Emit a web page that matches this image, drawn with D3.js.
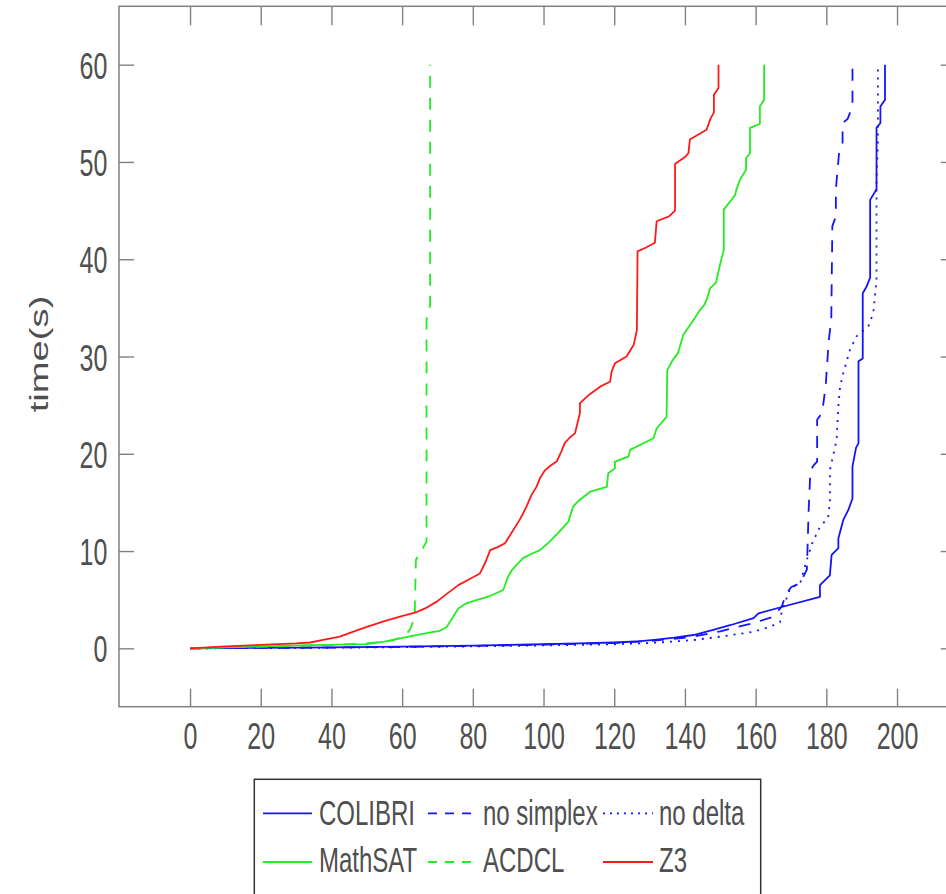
<!DOCTYPE html>
<html>
<head>
<meta charset="utf-8">
<script src="https://cdn.jsdelivr.net/npm/d3@7"></script>
<style>
  body { margin: 0; background: #fff; }
  svg { display: block; }
  text { font-family: "Liberation Sans", Arial, sans-serif; fill: #4f4f4f; }
</style>
</head>
<body>
<div id="container"></div>
<script>
// solved instances (x) vs time in seconds (y)
var colibri = [[0,0],[20,0.05],[40,0.1],[60,0.18],[80,0.28],[100,0.42],[110,0.5],[120,0.6],[126,0.7],[132,0.9],[137,1.1],[142.4,1.37],[148,1.9],[153,2.4],[159.4,3.1],[160.8,3.6],[167.9,4.3],[178.2,5.3],[178.2,6.5],[181,7.5],[181.5,9.6],[183.4,10.3],[183.4,11.3],[184.8,13.2],[186.2,14.2],[187.4,15.4],[187.4,18.7],[188.4,20.6],[189.1,21.1],[189.1,29.5],[190.3,29.8],[190.3,36.5],[191.4,37.2],[192.4,38.1],[192.4,46.1],[194.2,47.2],[194.2,53.5],[195.3,54.0],[195.3,55.7],[196.6,56.4],[196.6,60]];
var noSimplex = [[0,0],[20,0.04],[40,0.08],[60,0.15],[80,0.25],[100,0.38],[120,0.55],[130,0.75],[136,0.95],[142.4,1.2],[150,1.75],[159.4,2.6],[165,3.25],[167.4,4.3],[168.5,5.5],[170.1,6.3],[172.6,6.7],[174.5,8.1],[175,14.2],[175.5,18.3],[176.4,18.8],[177.4,19.2],[177.4,23.5],[178.8,24.2],[179.8,26.9],[180.7,31.7],[181.4,33.8],[181.7,43.4],[182.7,44.4],[182.7,47.2],[183.6,50.9],[184.6,52],[184.6,54],[186,54.4],[187.4,55.7],[187.4,60]];
var noDelta = [[0,0],[20,0.03],[40,0.06],[60,0.12],[80,0.2],[100,0.3],[120,0.42],[130,0.55],[136,0.68],[142.4,0.85],[150,1.2],[159.4,1.7],[164,2.2],[166.9,2.7],[167.4,3.8],[169.8,6.2],[172.6,6.7],[174.5,9.1],[176,10.8],[178.2,12.5],[180.5,13.4],[181,15],[181,18.3],[182.9,21.4],[183.4,24.9],[183.9,26.9],[184.8,28.3],[186.7,30.7],[188.6,32.1],[191.9,33.1],[193.3,34.5],[194.2,37.9],[194.2,48.2],[194.6,52],[194.6,60]];
var mathsat = [[0,0],[10,0.1],[20,0.2],[33.9,0.34],[50,0.44],[55,0.7],[59.4,1.03],[64,1.35],[68.8,1.7],[70.7,1.8],[72.6,2.2],[74,3.0],[75.9,4.1],[78,4.6],[81,4.95],[85,5.4],[88.6,6.0],[90,7.4],[91,8.0],[92.4,8.6],[94.3,9.3],[96.5,9.7],[99,10.1],[101.5,10.9],[103.7,11.7],[105.5,12.4],[107,13.0],[108.4,14.6],[110,15.2],[113.2,16.1],[117.9,16.6],[118.3,18.0],[120.2,18.5],[120.2,19.2],[124,19.7],[124.5,20.4],[131.1,21.6],[132,22.6],[134.8,23.8],[135,28.6],[136.5,29.6],[138.1,30.4],[139.5,32.2],[141,33.0],[142.9,34],[144.3,34.8],[145.5,35.3],[146.3,36],[147.1,37],[148.8,37.6],[149.9,39.4],[151,41],[151,45.1],[154.2,46.6],[154.6,47.2],[155.6,48.2],[157.3,49.2],[157.3,50.4],[158.4,50.9],[158.4,53.5],[161.2,53.9],[161.2,55.7],[162.4,56.4],[162.4,60]];
var acdcl = [[0,0],[10,0.1],[25,0.2],[40,0.35],[50,0.5],[57,0.8],[60.5,1.2],[62.2,1.9],[63.6,3.25],[63.6,4.3],[63.9,9.1],[65.1,9.8],[65.6,10.1],[66.9,11],[66.9,33.8],[67.9,35.3],[67.9,60]];
var z3 = [[0,0],[10,0.2],[20,0.35],[30,0.5],[34,0.6],[38,0.9],[42.4,1.2],[46,1.7],[50,2.2],[55,2.8],[59.4,3.25],[63.6,3.66],[66.5,4.1],[69.8,4.8],[73,5.7],[75.9,6.5],[79,7.1],[82,7.7],[83.5,8.8],[84.9,10.1],[87,10.4],[89.1,10.8],[91,11.9],[92.9,13.0],[94,13.7],[95.2,14.6],[96.5,15.7],[98,16.6],[99,17.5],[100.4,18.3],[102,18.8],[103.7,19.2],[105,20.2],[106,21.1],[107.5,21.7],[108.9,22.1],[110.3,24.2],[110.3,25.2],[113,26.1],[116,26.9],[118.8,27.4],[119.3,28.5],[120.2,29.3],[123.5,30.0],[125.5,31.2],[126.4,32.7],[126.6,40.8],[129,41.2],[131.5,41.7],[132,43.9],[135.5,44.4],[137.2,45],[137.2,49.8],[140,50.5],[141,50.9],[141.4,52.3],[146.1,53.3],[147.3,54.5],[148.2,55.1],[148.2,56.9],[149.5,57.6],[149.5,60]];

var xTicks = [0, 20, 40, 60, 80, 100, 120, 140, 160, 180, 200];
var yTicks = [0, 10, 20, 30, 40, 50, 60];

var seriesNames = ["COLIBRI", "no simplex", "no delta", "MathSAT", "ACDCL", "Z3"];
var seriesData = [colibri, noSimplex, noDelta, mathsat, acdcl, z3];
var seriesColors = ["#1414ff", "#1414ff", "#1414ff", "#22ee22", "#22ee22", "#ff1a1a"];
var seriesDash = [null, "12 10", "2 6", null, "12 10", null];

var drawChart = function ()
{
    var width = 946, height = 894;
    var plotLeft = 119, plotRight = 955.7, plotTop = 6.3, plotBottom = 706.7;
    var stretch = 1.47;

    var svg = d3.select("#container").append("svg")
        .attr("width", width)
        .attr("height", height);

    var x = d3.scaleLinear().domain([-20.1, 216.6]).range([plotLeft, plotRight]);
    var y = d3.scaleLinear().domain([-6, 66]).range([plotBottom, plotTop]);

    svg.append("clipPath").attr("id", "plotclip")
        .append("rect")
        .attr("x", plotLeft).attr("y", plotTop)
        .attr("width", plotRight - plotLeft).attr("height", plotBottom - plotTop);

    // axes, ticks pointing inward
    var axisColor = "#808080";

    var gBottom = svg.append("g")
        .attr("transform", "translate(0," + plotBottom + ")")
        .call(d3.axisBottom(x).tickValues(xTicks).tickSize(-18).tickSizeOuter(0));
    gBottom.selectAll("text")
        .attr("y", null).attr("dy", null)
        .attr("transform", "translate(0,42.6) scale(1," + stretch + ")")
        .style("font-size", "25px");

    svg.append("g")
        .attr("transform", "translate(0," + plotTop + ")")
        .call(d3.axisTop(x).tickValues(xTicks).tickSize(-19).tickSizeOuter(0).tickFormat(""));

    var gLeft = svg.append("g")
        .attr("transform", "translate(" + plotLeft + ",0)")
        .call(d3.axisLeft(y).tickValues(yTicks).tickSize(-15).tickSizeOuter(0));
    gLeft.selectAll("text")
        .attr("x", null).attr("dy", null)
        .attr("transform", "translate(-11.7,13.5) scale(1," + stretch + ")")
        .style("font-size", "25px");

    svg.append("g")
        .attr("transform", "translate(" + plotRight + ",0)")
        .call(d3.axisRight(y).tickValues(yTicks).tickSize(-15).tickSizeOuter(0).tickFormat(""));

    svg.selectAll(".domain").remove();
    svg.selectAll(".tick line").attr("stroke", axisColor).attr("stroke-width", 1.4);
    svg.selectAll(".tick text").attr("fill", "#4f4f4f").style("font-family", "'Liberation Sans', Arial, sans-serif");

    svg.append("rect")
        .attr("x", plotLeft).attr("y", plotTop)
        .attr("width", plotRight - plotLeft).attr("height", plotBottom - plotTop)
        .attr("fill", "none")
        .attr("stroke", axisColor)
        .attr("stroke-width", 1.5);

    svg.append("text")
        .attr("transform", "translate(47.5,354) scale(1," + stretch + ") rotate(-90)")
        .attr("text-anchor", "middle")
        .style("font-size", "26px")
        .text("time(s)");

    // curves
    var line = d3.line()
        .x(function (d) { return x(d[0]); })
        .y(function (d) { return y(d[1]); });

    var plot = svg.append("g").attr("clip-path", "url(#plotclip)");
    for (var i = 0; i < seriesData.length; i++)
    {
        plot.append("path")
            .datum(seriesData[i])
            .attr("fill", "none")
            .attr("stroke", seriesColors[i])
            .attr("stroke-width", 1.8)
            .attr("stroke-linejoin", "round")
            .attr("stroke-dasharray", seriesDash[i])
            .attr("d", line);
    }

    // legend
    var legend = svg.append("g");
    legend.append("rect")
        .attr("x", 254.3).attr("y", 779.3)
        .attr("width", 506.4).attr("height", 200)
        .attr("fill", "#fff")
        .attr("stroke", "#333")
        .attr("stroke-width", 1.5);

    var colLine = [[263, 312], [428, 472], [603, 653]];
    var colText = [319, 483, 659];
    var rowY = [813.3, 862];
    var rowBase = [824.5, 871.5];

    seriesNames.forEach(function (name, i)
    {
        var r = Math.floor(i / 3), c = i % 3;
        var dash = null;
        if (seriesDash[i] == "2 6") dash = "2 5";
        else if (seriesDash[i]) dash = "9 8";
        legend.append("line")
            .attr("x1", colLine[c][0]).attr("x2", colLine[c][1])
            .attr("y1", rowY[r]).attr("y2", rowY[r])
            .attr("stroke", seriesColors[i])
            .attr("stroke-width", 1.8)
            .attr("stroke-dasharray", dash);
        legend.append("text")
            .attr("transform", "translate(" + colText[c] + "," + rowBase[r] + ") scale(1,1.45)")
            .style("font-size", "24px")
            .text(name);
    });
};

drawChart();
</script>
</body>
</html>
